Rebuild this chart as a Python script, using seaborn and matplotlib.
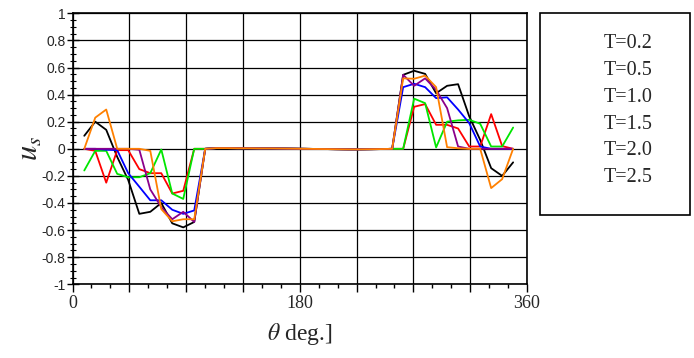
import numpy as np
import pandas as pd
import matplotlib
matplotlib.use("Agg")
import matplotlib.pyplot as plt
import seaborn as sns
from matplotlib.patches import Rectangle
from matplotlib.ticker import MultipleLocator

sns.set_style("white")
plt.rcParams["mathtext.fontset"] = "stix"

# sample angles (deg)
theta = [9.3, 18.0, 26.7, 35.4, 44.1, 52.9, 61.6, 70.3, 79.0, 87.7,
         96.4, 105.1, 113.8, 122.5, 131.2, 140.0, 148.7, 157.4, 166.1, 174.8,
         183.5, 192.2, 200.9, 209.6, 218.3, 227.1, 235.8, 244.5, 253.2, 261.9,
         270.6, 279.3, 288.0, 296.7, 305.4, 314.2, 322.9, 331.6, 340.3, 349.0]

labels = ["T=0.2", "T=0.5", "T=1.0", "T=1.5", "T=2.0", "T=2.5"]
colors = ["#000000", "#ff0000", "#00e600", "#0000ff", "#8b008b", "#ff8000"]

# quiet middle part (indices 12..28), shared by all curves
mid = [0.005, 0.005, 0.004, 0.004, 0.003, 0.003, 0.002, 0.001,
       0.0, -0.001, -0.002, -0.003, -0.004, -0.004, -0.003, -0.002, 0.0]

us_02 = ([0.096, 0.20, 0.14, -0.06, -0.23, -0.48, -0.465, -0.40, -0.55, -0.58, -0.54, 0.0]
         + mid +
         [0.546, 0.576, 0.553, 0.41, 0.465, 0.477, 0.24, 0.066, -0.143, -0.20, -0.10])
us_05 = ([0.0, -0.015, -0.25, -0.01, -0.01, -0.15, -0.18, -0.18, -0.33, -0.31, 0.0, 0.0]
         + mid +
         [0.0, 0.31, 0.33, 0.177, 0.177, 0.15, 0.017, 0.017, 0.256, 0.02, 0.0])
us_10 = ([-0.16, -0.015, -0.015, -0.185, -0.21, -0.21, -0.18, -0.005, -0.33, -0.37, 0.0, 0.0]
         + mid +
         [0.0, 0.37, 0.337, 0.01, 0.20, 0.21, 0.214, 0.185, 0.017, 0.017, 0.157])
us_15 = ([0.0, 0.0, -0.007, -0.01, -0.18, -0.28, -0.38, -0.38, -0.45, -0.48, -0.455, 0.0]
         + mid +
         [0.455, 0.48, 0.455, 0.374, 0.38, 0.29, 0.19, 0.017, 0.0, 0.0, 0.0])
us_20 = ([0.0, 0.0, 0.0, 0.0, 0.0, -0.007, -0.30, -0.43, -0.52, -0.465, -0.54, 0.0]
         + mid +
         [0.546, 0.465, 0.52, 0.435, 0.30, 0.017, 0.0, 0.0, 0.0, 0.0, 0.0])
us_25 = ([0.0, 0.23, 0.29, 0.0, 0.0, 0.0, -0.015, -0.445, -0.535, -0.52, -0.52, 0.0]
         + mid +
         [0.52, 0.517, 0.54, 0.455, 0.012, 0.004, 0.0, 0.0, -0.29, -0.224, 0.0])

series = [us_02, us_05, us_10, us_15, us_20, us_25]

df = pd.concat(
    [pd.DataFrame({"theta": theta, "us": s, "T": lab}) for s, lab in zip(series, labels)],
    ignore_index=True
)

fig = plt.figure(figsize=(6.94, 3.58), dpi=100)
ax = fig.add_axes([0.1045, 0.2059, 0.6549, 0.7569])

sns.lineplot(
    data=df,
    x="theta",
    y="us",
    hue="T",
    hue_order=labels,
    palette=colors,
    linewidth=1.3,
    ax=ax
)

ax.set_xlim(0, 360)
ax.set_ylim(-1, 1)

ax.xaxis.set_major_locator(MultipleLocator(45))
ax.xaxis.set_minor_locator(MultipleLocator(15))
ax.yaxis.set_major_locator(MultipleLocator(0.2))
ax.yaxis.set_minor_locator(MultipleLocator(0.05))
ax.grid(True, which="major", color="black", linewidth=0.9)

ax.set_xticklabels(["0" if t == 0 else "180" if t == 180 else "360" if t == 360 else ""
                    for t in ax.get_xticks()],
                   fontfamily="Liberation Serif", fontsize=13)
ax.set_yticklabels([f"{t:g}" if abs(t) > 1e-9 else "0" for t in np.round(ax.get_yticks(), 2)],
                   fontfamily="Liberation Sans", fontsize=10)

ax.tick_params(axis="both", which="both", bottom=True, left=True, color="black")
ax.tick_params(axis="x", which="major", direction="out", length=6, width=1)
ax.tick_params(axis="x", which="minor", direction="out", length=3, width=1)
ax.tick_params(axis="y", which="major", direction="inout", length=8, width=1)
ax.tick_params(axis="y", which="minor", direction="inout", length=5, width=0.8)
ax.tick_params(axis="x", pad=2)
ax.tick_params(axis="y", pad=1)

for sp in ax.spines.values():
    sp.set_color("black")
    sp.set_linewidth(1.2)

ax.set_xlabel(r"$\theta$ deg.]", fontfamily="Liberation Serif", fontsize=17, labelpad=6)
ax.set_ylabel(r"$u_s$", fontsize=22, labelpad=-2)

# legend: text only inside a tall box
handles, labs = ax.get_legend_handles_labels()
ax.get_legend().remove()
fig.patches.append(Rectangle((0.778, 0.399), 0.216, 0.564, transform=fig.transFigure,
                             fill=False, edgecolor="black", linewidth=1.2))
leg = fig.legend(handles, labs, loc="upper center", bbox_to_anchor=(0.905, 0.955),
                 frameon=False, handlelength=0, handletextpad=0,
                 labelspacing=0.38, prop={"family": "Liberation Serif", "size": 14.5})
for h in leg.legend_handles:
    h.set_visible(False)

plt.savefig("out.png", dpi=100)
